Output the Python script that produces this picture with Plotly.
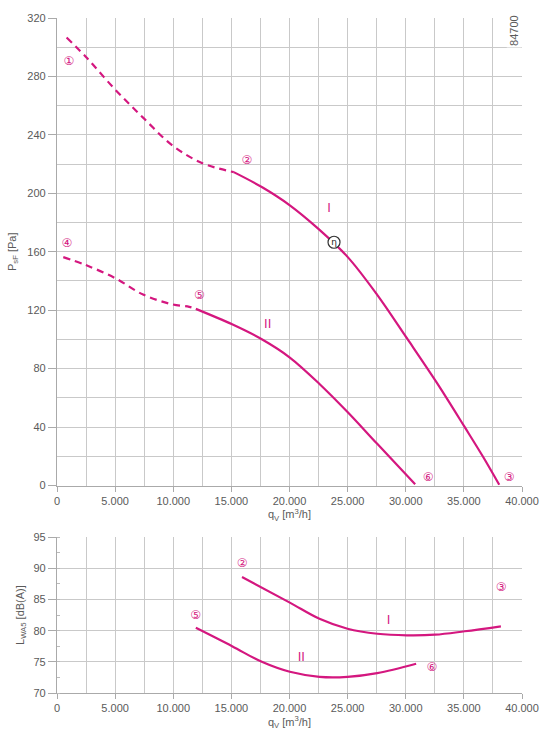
import plotly.graph_objects as go

MAG = "#d4177f"
GRID = "#c9c9c9"
TXT = "#5a5a5a"

# ---- Top chart: pressure curves (q_V in m3/h, p_sF in Pa)
I_dash_x = [825, 2580, 4993, 7404, 9957, 12511, 15206]
I_dash_y = [306.6, 292.6, 271.1, 251.8, 232.6, 220.6, 214.5]
I_sol_x = [15206, 17617, 20028, 22440, 24993, 27546, 30100, 32653, 35064, 36624, 38043]
I_sol_y = [214.5, 204.3, 191.8, 176.0, 156.5, 130.5, 100.8, 70.6, 40.1, 20.0, 0.5]

II_dash_x = [540, 2440, 4993, 7404, 9957, 11376, 11943]
II_dash_y = [156.3, 151.0, 142.0, 130.7, 123.9, 122.3, 120.9]
II_sol_x = [11943, 15064, 17617, 20028, 22580, 24993, 27546, 30809]
II_sol_y = [120.9, 110.3, 100.1, 87.6, 69.5, 50.3, 28.5, 0.9]

eta_x = [23830]
eta_y = [166.5]

# ---- Bottom chart: sound power (dB(A))
LI_x = [15915, 20028, 22580, 24993, 27546, 30100, 32511, 35064, 38185]
LI_y = [88.6, 84.5, 81.9, 80.3, 79.5, 79.25, 79.35, 79.9, 80.7]
LII_x = [11943, 15064, 17617, 20028, 22580, 24993, 27546, 30894]
LII_y = [80.45, 77.5, 75.0, 73.4, 72.6, 72.6, 73.2, 74.7]

# Labels
top_lbl_text = ["①", "②", "③", "④", "⑤", "⑥"]
top_lbl_x = [1021, 16340, 38894, 851, 12255, 31915]
top_lbl_y = [290.1, 222.2, 5.4, 165, 129.8, 5.4]
bot_lbl_text = ["②", "③", "⑤", "⑥"]
bot_lbl_x = [15915, 38213, 11915, 32255]
bot_lbl_y = [90.7, 86.9, 82.4, 74.0]
roman_text = ["I", "II"]
top_roman_x = [23404, 18128]
top_roman_y = [189.5, 110]
bot_roman_x = [28511, 21021]
bot_roman_y = [81.6, 75.7]

fig = go.Figure()

def line(x, y, xa, ya, dash=None):
    fig.add_trace(go.Scatter(
        x=x, y=y, mode="lines", xaxis=xa, yaxis=ya, hoverinfo="skip",
        line=dict(color=MAG, width=2.2, shape="spline", smoothing=1.0,
                  dash=dash if dash else "solid"),
        showlegend=False))

line(I_dash_x, I_dash_y, "x", "y", "7px,5px")
line(I_sol_x, I_sol_y, "x", "y")
line(II_dash_x, II_dash_y, "x", "y", "7px,5px")
line(II_sol_x, II_sol_y, "x", "y")
line(LI_x, LI_y, "x2", "y2")
line(LII_x, LII_y, "x2", "y2")

fig.add_trace(go.Scatter(
    x=eta_x, y=eta_y, mode="markers+text", text=["η"], textposition="middle center",
    textfont=dict(size=9, color="#222", family="DejaVu Sans"),
    marker=dict(size=12, color="white", line=dict(color="#333", width=1.2)),
    xaxis="x", yaxis="y", showlegend=False, hoverinfo="skip"))

fig.add_trace(go.Scatter(
    x=top_lbl_x, y=top_lbl_y, mode="text", text=top_lbl_text,
    textfont=dict(size=12, color=MAG, family="DejaVu Sans"),
    xaxis="x", yaxis="y", showlegend=False, hoverinfo="skip"))
fig.add_trace(go.Scatter(
    x=bot_lbl_x, y=bot_lbl_y, mode="text", text=bot_lbl_text,
    textfont=dict(size=12, color=MAG, family="DejaVu Sans"),
    xaxis="x2", yaxis="y2", showlegend=False, hoverinfo="skip"))
fig.add_trace(go.Scatter(
    x=top_roman_x, y=top_roman_y, mode="text", text=roman_text,
    textfont=dict(size=13, color=MAG, family="Liberation Sans"),
    xaxis="x", yaxis="y", showlegend=False, hoverinfo="skip"))
fig.add_trace(go.Scatter(
    x=bot_roman_x, y=bot_roman_y, mode="text", text=roman_text,
    textfont=dict(size=13, color=MAG, family="Liberation Sans"),
    xaxis="x2", yaxis="y2", showlegend=False, hoverinfo="skip"))

tickfont = dict(size=11, color=TXT, family="Liberation Sans")
common_x = dict(range=[0, 40000], tickmode="linear", tick0=0, dtick=5000,
                tickformat=",d", showgrid=True, gridcolor=GRID, gridwidth=1.2,
                minor=dict(dtick=2500, showgrid=True, gridcolor=GRID, gridwidth=1.2),
                ticks="outside", ticklen=5, tickcolor="#aaa",
                showline=True, linecolor="#aaa", linewidth=1.2,
                zeroline=False, tickfont=tickfont, fixedrange=True)

fig.update_layout(
    width=551, height=738,
    margin=dict(l=53, r=28, t=13, b=45),
    paper_bgcolor="white", plot_bgcolor="white",
    separators=",.",
    font=dict(family="Liberation Sans", color=TXT),
    xaxis=dict(**common_x, anchor="y", domain=[0, 1],
               title=dict(text="q<sub>V</sub> [m<sup>3</sup>/h]", font=dict(size=11, color=TXT), standoff=2)),
    yaxis=dict(range=[0, 320], domain=[0.3074, 1], anchor="x",
               tickmode="linear", tick0=0, dtick=40, showgrid=True, gridcolor=GRID, gridwidth=1.2,
               minor=dict(dtick=20, showgrid=True, gridcolor=GRID, gridwidth=1.2),
               ticks="outside", ticklen=8, tickcolor="#aaa",
               showline=True, linecolor="#aaa", linewidth=1.2, zeroline=False,
               tickfont=tickfont, fixedrange=True,
               title=dict(text="P<sub>sF</sub> [Pa]", font=dict(size=11, color=TXT), standoff=8)),
    xaxis2=dict(**common_x, anchor="y2", domain=[0, 1],
                title=dict(text="q<sub>V</sub> [m<sup>3</sup>/h]", font=dict(size=11, color=TXT), standoff=2)),
    yaxis2=dict(range=[70, 95], domain=[0, 0.2309], anchor="x2",
                tickmode="linear", tick0=70, dtick=5, showgrid=True, gridcolor=GRID, gridwidth=1.2,
                minor=dict(dtick=2.5, ticks="inside", ticklen=3, tickcolor="#bbb", showgrid=False),
                ticks="outside", ticklen=8, tickcolor="#aaa",
                showline=True, linecolor="#aaa", linewidth=1.2, zeroline=False,
                tickfont=tickfont, fixedrange=True,
                title=dict(text="L<sub>WA5</sub> [dB(A)]", font=dict(size=11, color=TXT), standoff=6)),
    annotations=[dict(text="84700", xref="paper", yref="paper", x=0.983, y=0.981,
                      xanchor="center", yanchor="middle",
                      showarrow=False, textangle=-90, bgcolor="white",
                      font=dict(size=11, color=TXT, family="Liberation Sans"))],
)

fig.write_html("out.html")
